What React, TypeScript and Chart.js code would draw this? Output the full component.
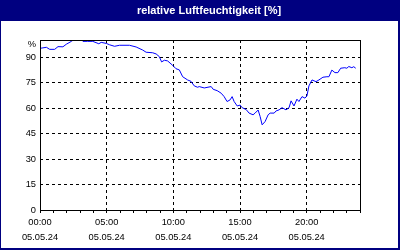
import React, { useEffect, useRef } from "react";
import { Chart, registerables } from "chart.js";

Chart.register(...registerables);

const chartTitle = "relative Luftfeuchtigkeit [%]";
const dateLabel = "05.05.24";
const yTickValues = [0, 15, 30, 45, 60, 75, 90];
const unitLabel = "%";
const unitTickValue = 97.6;

const hours = [
  0, 0.48, 0.73, 1.1, 1.35, 1.72, 1.97, 2.35, 2.6, 2.82, 3.1, 3.22, 3.55, 3.96,
  4.41, 4.59, 4.97, 5.21, 5.59, 5.96, 6.71, 7.21, 7.7, 7.96, 8.45, 8.71, 8.95,
  9.12, 9.33, 9.57, 9.95, 10.2, 10.45, 10.7, 11.07, 11.32, 11.57, 11.82, 11.94,
  12.32, 12.84, 12.99, 13.29, 13.59, 13.81, 14.03, 14.26, 14.41, 14.56, 14.79,
  15.01, 15.16, 15.46, 15.68, 15.98, 16.13, 16.36, 16.51, 16.66, 16.88, 17.11,
  17.26, 17.56, 17.71, 17.93, 18.15, 18.45, 18.68, 18.83, 19.05, 19.27, 19.42,
  19.65, 19.87, 20.02, 20.17, 20.4, 20.7, 20.92, 21.22, 21.52, 21.67, 21.89,
  22.12, 22.34, 22.55, 22.86, 23.01, 23.16, 23.39, 23.53, 23.68,
];

const humidity = [
  95.1, 95.7, 94.5, 94.5, 96.1, 96, 97.5, 99.2, 100.5, 101, 100.3, 99.2, 99.2,
  99.2, 97.8, 98.6, 98, 97.2, 96.3, 96.9, 96.9, 95.9, 94.1, 92.8, 92.5, 91.8,
  90.2, 87.1, 88.1, 87.7, 85.1, 83.1, 82.4, 78.4, 76.5, 75.7, 73, 72.2, 72.6,
  71.8, 72.6, 71, 70.2, 68.7, 66.7, 63.8, 64.8, 66.7, 63.8, 61.2, 61.7, 60.2,
  59.1, 57, 56, 57, 58.8, 55, 50.1, 52, 56, 57, 57, 58.3, 58.9, 60.2, 58.9,
  60.2, 64.2, 61.2, 65.2, 63.8, 66.7, 65.8, 67.1, 73, 76.5, 75.5, 76.5, 78.1,
  78.4, 78.4, 82.3, 80.8, 80.8, 83.4, 83.7, 83.4, 84.4, 83.7, 84.3, 83.4,
];

const NAVY = "#000080";
const FONT = "'Liberation Sans', Arial, sans-serif";

const framePlugin = {
  id: "frame",
  beforeDraw(chart: any) {
    const { ctx, width, height } = chart;
    ctx.save();
    ctx.fillStyle = "#ffffff";
    ctx.fillRect(0, 0, width, height);
    ctx.fillStyle = NAVY;
    ctx.fillRect(0, 0, width, 21);
    ctx.fillRect(0, 0, 1, height);
    ctx.fillRect(width - 2, 0, 2, height);
    ctx.fillRect(0, height - 2, width, 2);
    ctx.fillStyle = "#ffffff";
    ctx.font = `bold 11px ${FONT}`;
    ctx.textAlign = "center";
    ctx.textBaseline = "middle";
    ctx.fillText(chartTitle, 209, 11);
    ctx.restore();
  },
  afterDraw(chart: any) {
    const { ctx, chartArea } = chart;
    ctx.save();
    ctx.strokeStyle = "#000000";
    ctx.lineWidth = 1;
    ctx.setLineDash([]);
    const l = Math.round(chartArea.left) + 0.5;
    const t = Math.round(chartArea.top) + 0.5;
    const r = Math.round(chartArea.right) + 0.5;
    const b = Math.round(chartArea.bottom) + 0.5;
    ctx.strokeRect(l, t, r - l, b - t);
    ctx.restore();
  },
};

export default function App() {
  const canvasRef = useRef<HTMLCanvasElement>(null);

  useEffect(() => {
    if (!canvasRef.current) return;
    const points = hours.map((h, i) => ({ x: h, y: humidity[i] }));
    const chart = new Chart(canvasRef.current, {
      type: "line",
      data: {
        datasets: [
          {
            data: points,
            borderColor: "#0000ff",
            borderWidth: 1,
            pointRadius: 0,
            tension: 0,
            fill: false,
          },
        ],
      },
      plugins: [framePlugin],
      options: {
        animation: false,
        responsive: false,
        maintainAspectRatio: false,
        devicePixelRatio: 1,
        layout: { padding: { left: 2, top: 40, right: 40, bottom: 2 } },
        plugins: {
          legend: { display: false },
          tooltip: { enabled: false },
          title: { display: false },
        },
        scales: {
          x: {
            type: "linear",
            min: 0,
            max: 24,
            afterFit: (scale: any) => {
              scale.height = 38;
            },
            ticks: {
              stepSize: 1,
              autoSkip: false,
              maxTicksLimit: 100,
              maxRotation: 0,
              minRotation: 0,
              padding: 2,
              color: "#000000",
              font: { family: FONT, size: 9.3, lineHeight: 1.6 },
              callback: (v: any) => {
                const n = Number(v);
                if (n % 5 === 0 && n < 24) {
                  return [String(n).padStart(2, "0") + ":00", dateLabel];
                }
                return "";
              },
            },
            grid: {
              drawTicks: true,
              tickLength: 3,
              tickColor: "#000000",
              tickBorderDash: [],
              lineWidth: 1,
              color: (ctx: any) => {
                const v = ctx.tick ? ctx.tick.value : 0;
                return v % 5 === 0 && v > 0 && v < 24 ? "#000000" : "rgba(0,0,0,0)";
              },
            },
            border: { display: false, dash: [3, 3] },
          },
          y: {
            type: "linear",
            min: 0,
            max: 100,
            afterFit: (scale: any) => {
              scale.width = 38;
            },
            afterBuildTicks: (scale: any) => {
              scale.ticks = [...yTickValues, unitTickValue].map((v) => ({ value: v }));
            },
            ticks: {
              padding: 4,
              color: "#000000",
              font: { family: FONT, size: 9.3 },
              callback: (v: any) => (Number(v) === unitTickValue ? unitLabel : String(v)),
            },
            grid: {
              drawTicks: false,
              lineWidth: 1,
              color: (ctx: any) => {
                const v = ctx.tick ? ctx.tick.value : 0;
                return v > 0 && v < 95 ? "#000000" : "rgba(0,0,0,0)";
              },
            },
            border: { display: false, dash: [3, 3] },
          },
        },
      },
    });
    return () => chart.destroy();
  }, []);

  return (
    <div style={{ position: "fixed", left: 0, top: 0, width: 400, height: 250 }}>
      <canvas ref={canvasRef} width={400} height={250} style={{ display: "block", width: 400, height: 250 }} />
    </div>
  );
}
